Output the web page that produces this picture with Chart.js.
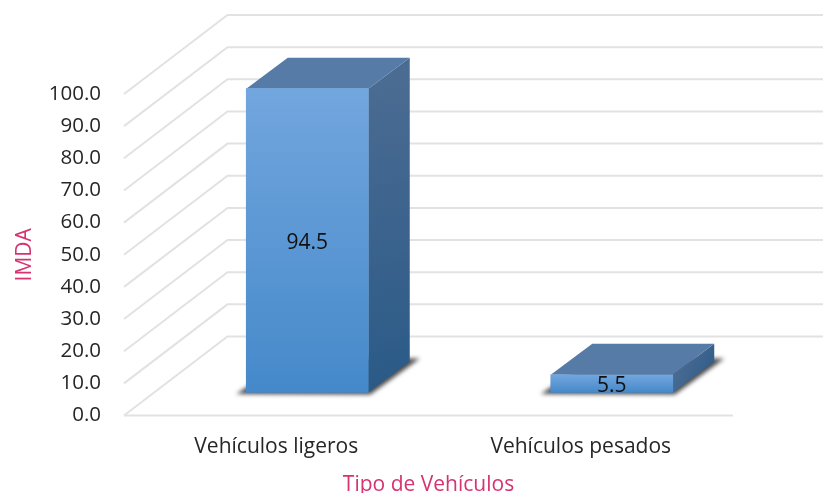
<!DOCTYPE html>
<html>
<head>
<meta charset="utf-8">
<script src="https://cdn.jsdelivr.net/npm/chart.js@4"></script>
<style>
  html, body { margin: 0; padding: 0; background: #fff; }
  canvas { display: block; }
</style>
</head>
<body>
<canvas id="chart" width="823" height="493"></canvas>
<script>
// ===== Data =====
const categories = ["Vehículos ligeros", "Vehículos pesados"];
const imdaValues = [94.5, 5.5];
const yTicks = [0, 10, 20, 30, 40, 50, 60, 70, 80, 90, 100];

// ===== 3D look =====
const WALL_DX = 103.5, WALL_DY = -79;   // floor depth
const BAR_OFF_X = 31, BAR_OFF_Y = -23;  // front of the bar sits inside the floor
const BAR_DX = 41.5, BAR_DY = -31;      // bar depth
const FONT = "'Open Sans', sans-serif";

function poly(ctx, pts, fill) {
  ctx.beginPath();
  pts.forEach((p, i) => i ? ctx.lineTo(p[0], p[1]) : ctx.moveTo(p[0], p[1]));
  ctx.closePath();
  ctx.fillStyle = fill;
  ctx.fill();
}

const plot3d = {
  id: "plot3d",
  beforeDatasetsDraw(chart) {
    const { ctx, chartArea: a, scales: { y } } = chart;
    ctx.save();

    // walls
    ctx.strokeStyle = "#e2e2e2";
    ctx.lineWidth = 2;
    yTicks.forEach(t => {
      const py = y.getPixelForValue(t);
      ctx.beginPath();
      ctx.moveTo(a.left, py);
      ctx.lineTo(a.left + WALL_DX, py + WALL_DY);
      ctx.lineTo(chart.width, py + WALL_DY);
      ctx.stroke();
    });
    const py0 = y.getPixelForValue(0);
    ctx.beginPath();
    ctx.moveTo(a.left, py0);
    ctx.lineTo(a.right, py0);
    ctx.stroke();

    // bar sides
    chart.getDatasetMeta(0).data.forEach(bar => {
      const l = bar.x - bar.width / 2 + BAR_OFF_X;
      const r = bar.x + bar.width / 2 + BAR_OFF_X;
      const t = bar.y + BAR_OFF_Y;
      const b = bar.base + BAR_OFF_Y;

      ctx.save();
      ctx.filter = "blur(2px)";
      poly(ctx, [[l - 10, b + 1.5], [r + 2, b + 2], [r + BAR_DX + 10, b + BAR_DY - 3], [l + 44, b + BAR_DY - 3]], "rgba(30,30,30,0.8)");
      ctx.restore();

      const side = ctx.createLinearGradient(r, t, r + BAR_DX, b);
      side.addColorStop(0, "#4a6b92");
      side.addColorStop(1, "#2a5a87");
      poly(ctx, [[r, t], [r + BAR_DX, t + BAR_DY], [r + BAR_DX, b + BAR_DY], [r, b]], side);
      poly(ctx, [[l, t], [l + BAR_DX, t + BAR_DY], [r + BAR_DX, t + BAR_DY], [r, t]], "#557ba6");
    });
    ctx.restore();
  },
  beforeDatasetDraw(chart) {
    chart.ctx.save();
    chart.ctx.translate(BAR_OFF_X, BAR_OFF_Y);
  },
  afterDatasetDraw(chart) {
    chart.ctx.restore();
  },
  afterDatasetsDraw(chart) {
    const { ctx } = chart;
    ctx.save();
    ctx.fillStyle = "#111";
    ctx.font = "21px " + FONT;
    ctx.textAlign = "center";
    ctx.textBaseline = "middle";
    chart.getDatasetMeta(0).data.forEach((bar, i) => {
      const cy = (bar.y + bar.base) / 2 + BAR_OFF_Y;
      ctx.fillText(imdaValues[i].toFixed(1), bar.x + BAR_OFF_X, cy + 2);
    });
    ctx.restore();
  }
};

// ===== Render =====
new Chart(document.getElementById("chart"), {
  type: "bar",
  data: {
    labels: categories,
    datasets: [{
      data: imdaValues,
      barThickness: 122,
      clip: false,
      backgroundColor: (c) => {
        const yScale = c.chart.scales.y;
        const top = yScale ? yScale.getPixelForValue(imdaValues[c.dataIndex]) : NaN;
        const bottom = yScale ? yScale.getPixelForValue(0) : NaN;
        if (!Number.isFinite(top) || !Number.isFinite(bottom)) return "#4589ca";
        const g = c.chart.ctx.createLinearGradient(0, top, 0, bottom);
        g.addColorStop(0, "#72a6de");
        g.addColorStop(1, "#4589ca");
        return g;
      }
    }]
  },
  options: {
    responsive: false,
    animation: false,
    layout: { padding: { top: 94, right: 90 } },
    plugins: { legend: { display: false }, tooltip: { enabled: false } },
    scales: {
      x: {
        grid: { display: false },
        border: { display: false },
        ticks: { color: "#262626", padding: 10.5, maxRotation: 0, font: { family: FONT, size: 21 } },
        title: { display: true, text: "Tipo de Vehículos", color: "#d6336f", padding: { top: 0, bottom: -5 }, font: { family: FONT, size: 21 } },
        afterFit: (s) => { s.height = 77.5; }
      },
      y: {
        min: 0,
        max: 100,
        grid: { display: false },
        border: { display: false },
        ticks: {
          stepSize: 10,
          color: "#262626",
          padding: 15,
          font: { family: FONT, size: 20.5 },
          callback: (v) => v.toFixed(1)
        },
        title: { display: true, text: "IMDA", color: "#d6336f", padding: { top: 12.5, bottom: 0 }, font: { family: FONT, size: 21 } },
        afterFit: (s) => { s.width = 124; }
      }
    }
  },
  plugins: [plot3d]
});
</script>
</body>
</html>
